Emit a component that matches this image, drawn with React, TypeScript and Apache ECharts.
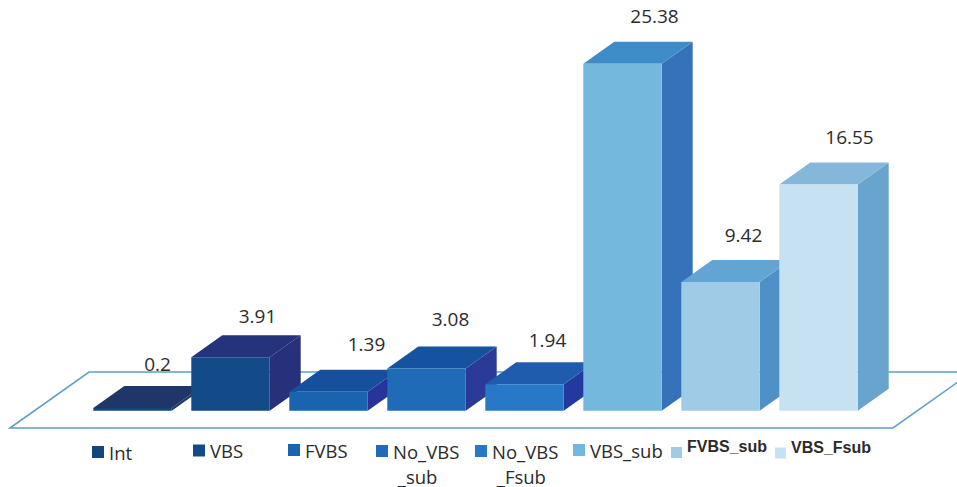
import React, { useEffect, useRef } from "react";
import * as echarts from "echarts";

const categories = ["Int", "VBS", "FVBS", "No_VBS_sub", "No_VBS_Fsub", "VBS_sub", "FVBS_sub", "VBS_Fsub"];
const values = [0.2, 3.91, 1.39, 3.08, 1.94, 25.38, 9.42, 16.55];

// Legend captions. A swatch sits at the middle of its caption, so a leading empty
// line keeps it beside the first of the two wrapped lines, and a trailing one
// raises the bold captions a little above their swatches.
const captions: Record<string, string> = {
  No_VBS_sub: "\nNo_VBS\n _sub",
  No_VBS_Fsub: "\nNo_VBS\n _Fsub",
  FVBS_sub: "FVBS_sub\n ",
  VBS_Fsub: "VBS_Fsub\n ",
};

const frontColors = ["#14467e", "#134a88", "#1a63ae", "#1f6bb8", "#2878c8", "#74b8de", "#a0cbe6", "#c6e1f1"];
const topColors = ["#1e3768", "#25337c", "#164f9c", "#1552a0", "#1f5cad", "#3f8dc8", "#62a4d3", "#85b7da"];
const sideColors = ["#1e3768", "#27307a", "#27359a", "#2a3a96", "#2439a0", "#3572ba", "#4f90c6", "#68a4cd"];

// Offset of each value caption from the top-centre of its bar's front face.
const captionShiftX = [25, 27, 38, 24, 23, 32, 23, 31];
const captionShiftY = [-44, -41, -48, -50, -44, -48, -47, -48];

// Box corner of each legend entry, its swatch size and whether it is set in the heavier face.
const legendLeft = [92, 193, 288, 376, 475, 573, 671, 775];
const legendTop = [439.5, 438, 437.5, 413.5, 413.5, 437.5, 438.5, 439];
const swatchSize = [12, 12, 12, 12, 12, 12, 11, 11];
const legendBold = [false, false, false, false, false, false, true, true];

const DEPTH_X = 31;
const DEPTH_Y = -22;
const LINE_HEIGHT = 25;
const BOLD_LINE_HEIGHT = 12;

const floorPoints = [
  [10, 428],
  [893, 428],
  [972, 372],
  [89, 372],
];

function renderBar(index: number) {
  return (_params: any, api: any) => {
    const top = api.coord([api.value(0), api.value(1)]);
    const base = api.coord([api.value(0), 0]);
    const w = api.size([1, 0])[0] * 0.8;
    const l = top[0] - w / 2;
    const r = top[0] + w / 2;
    const polygon = (points: number[][], fill: string) => ({
      type: "polygon",
      shape: { points },
      style: { fill },
    });
    return {
      type: "group",
      children: [
        polygon(
          [
            [r, top[1]],
            [r + DEPTH_X, top[1] + DEPTH_Y],
            [r + DEPTH_X, base[1] + DEPTH_Y],
            [r, base[1]],
          ],
          sideColors[index]
        ),
        polygon(
          [
            [l, top[1]],
            [l + DEPTH_X, top[1] + DEPTH_Y],
            [r + DEPTH_X, top[1] + DEPTH_Y],
            [r, top[1]],
          ],
          topColors[index]
        ),
        polygon(
          [
            [l, top[1]],
            [r, top[1]],
            [r, base[1]],
            [l, base[1]],
          ],
          frontColors[index]
        ),
        {
          type: "text",
          z2: 100,
          style: {
            text: String(values[index]),
            x: top[0] + captionShiftX[index],
            y: top[1] + captionShiftY[index],
            fill: "#2b2b2b",
            font: '19px "Open Sans"',
            align: "center",
            verticalAlign: "middle",
          },
        },
      ],
    };
  };
}

export default function App() {
  const ref = useRef<HTMLDivElement>(null);

  useEffect(() => {
    const chart = echarts.init(ref.current!, null, { renderer: "svg" });
    chart.setOption({
      animation: false,
      backgroundColor: "#ffffff",
      grid: { left: 83.5, width: 784, top: 0.7, height: 410 },
      xAxis: { type: "category", data: categories, show: false },
      yAxis: { type: "value", min: 0, max: 30, show: false },
      legend: categories.map((name, i) => ({
        data: [name],
        left: legendLeft[i],
        top: legendTop[i],
        padding: 0,
        itemWidth: swatchSize[i],
        itemHeight: swatchSize[i],
        icon: "rect",
        selectedMode: false,
        formatter: () => captions[name] ?? name,
        textStyle: {
          color: "#2b2b2b",
          fontFamily: legendBold[i] ? '"Liberation Sans"' : '"Open Sans"',
          fontSize: legendBold[i] ? 16 : 18.5,
          fontWeight: legendBold[i] ? "bold" : "normal",
          lineHeight: legendBold[i] ? BOLD_LINE_HEIGHT : LINE_HEIGHT,
        },
      })),
      graphic: [
        {
          type: "polygon",
          z: 0,
          shape: { points: floorPoints },
          style: { fill: "#ffffff", stroke: "#5f9fc8", lineWidth: 1.6 },
        },
      ],
      series: categories.map((name, i) => ({
        type: "custom",
        name,
        clip: false,
        itemStyle: { color: frontColors[i] },
        encode: { x: 0, y: 1 },
        data: [[i, values[i]]],
        renderItem: renderBar(i),
      })),
    });
    return () => chart.dispose();
  }, []);

  return <div ref={ref} style={{ position: "absolute", left: 0, top: 0, width: 957, height: 487 }} />;
}
